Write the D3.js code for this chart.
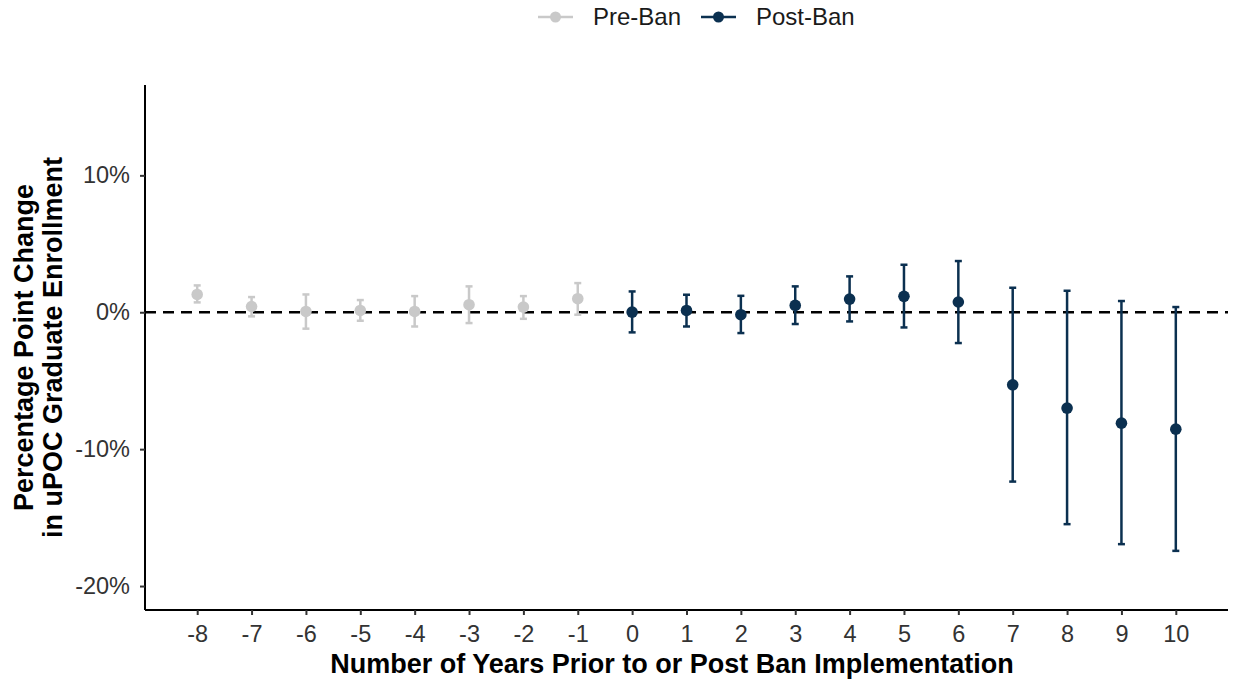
<!doctype html>
<html lang="en">
<head>
<meta charset="utf-8">
<title>Event study: uPOC graduate enrollment</title>
<script src="https://cdn.jsdelivr.net/npm/d3@7"></script>
<style>
  body { margin: 0; background: #fff; }
  text { font-family: "Liberation Sans", Arial, sans-serif; }
  .tick text { fill: #333; font-size: 23.5px; }
  .axis-title { font-weight: bold; font-size: 27px; fill: #000; }
</style>
</head>
<body>
<div id="viz"></div>
<script>
// DATA
var years = [-8, -7, -6, -5, -4, -3, -2, -1, 0, 1, 2, 3, 4, 5, 6, 7, 8, 9, 10];
var estimate = [1.3, 0.42, 0.06, 0.13, 0.06, 0.55, 0.38, 0.99, 0.01, 0.13, -0.18, 0.5, 0.96, 1.16, 0.75, -5.3, -7.0, -8.1, -8.54];
var ciLow = [0.72, -0.3, -1.2, -0.62, -1.04, -0.79, -0.48, -0.18, -1.47, -1.04, -1.52, -0.86, -0.67, -1.11, -2.25, -12.37, -15.48, -16.94, -17.43];
var ciHigh = [1.96, 1.11, 1.3, 0.89, 1.18, 1.89, 1.18, 2.13, 1.52, 1.28, 1.2, 1.89, 2.62, 3.47, 3.74, 1.79, 1.57, 0.82, 0.38];
var groups = ["Pre-Ban", "Post-Ban"];
var yTicks = [-20, -10, 0, 10];

var colors = { "Pre-Ban": "#c9c9c9", "Post-Ban": "#0b3050" };

var data = years.map(function(y, i) {
  return { year: y, est: estimate[i], lo: ciLow[i], hi: ciHigh[i], group: y < 0 ? "Pre-Ban" : "Post-Ban" };
});

// DRAWING AREA
var w = 1233, h = 680;
var margin = { top: 85, right: 5, bottom: 70, left: 145 };

var svg = d3.select("#viz").append("svg")
  .attr("width", w)
  .attr("height", h);

var x = d3.scaleLinear()
  .domain([-8.96, 10.96])
  .range([margin.left, w - margin.right]);

var y = d3.scaleLinear()
  .domain([-21.75, 16.6])
  .range([h - margin.bottom, margin.top]);

// zero line
svg.append("line")
  .attr("x1", x.range()[0]).attr("x2", x.range()[1])
  .attr("y1", y(0)).attr("y2", y(0))
  .attr("stroke", "#000")
  .attr("stroke-width", 2.5)
  .attr("stroke-dasharray", "11,7");

// AXES (plain hyphen for negatives, like the original)
var xAxis = svg.append("g")
  .attr("transform", "translate(0," + (h - margin.bottom) + ")")
  .call(d3.axisBottom(x).tickValues(years).tickFormat(function(d) { return String(d); }).tickSize(5).tickPadding(10));

var yAxis = svg.append("g")
  .attr("transform", "translate(" + margin.left + ",0)")
  .call(d3.axisLeft(y).tickValues(yTicks).tickFormat(function(d) { return d + "%"; }).tickSize(5).tickPadding(10));

[xAxis, yAxis].forEach(function(a) {
  a.select(".domain").attr("stroke", "#000").attr("stroke-width", 2);
  a.selectAll(".tick line").attr("stroke", "#333").attr("stroke-width", 2);
  a.selectAll(".tick text").attr("font-size", null).attr("font-family", null);
});
xAxis.select(".domain").attr("d", "M" + x.range()[0] + ",0H" + x.range()[1]);
yAxis.select(".domain").attr("d", "M0," + y.range()[0] + "V" + y.range()[1]);

// ERROR BARS
var bars = svg.append("g").selectAll("g.err")
  .data(data)
  .enter().append("g")
  .attr("class", "err")
  .attr("stroke", function(d) { return colors[d.group]; })
  .attr("stroke-width", 2.5);

bars.append("line")
  .attr("x1", function(d) { return x(d.year); })
  .attr("x2", function(d) { return x(d.year); })
  .attr("y1", function(d) { return y(d.lo); })
  .attr("y2", function(d) { return y(d.hi); });

bars.append("line")
  .attr("x1", function(d) { return x(d.year) - 3.5; })
  .attr("x2", function(d) { return x(d.year) + 3.5; })
  .attr("y1", function(d) { return y(d.hi); })
  .attr("y2", function(d) { return y(d.hi); });

bars.append("line")
  .attr("x1", function(d) { return x(d.year) - 3.5; })
  .attr("x2", function(d) { return x(d.year) + 3.5; })
  .attr("y1", function(d) { return y(d.lo); })
  .attr("y2", function(d) { return y(d.lo); });

// POINTS
svg.append("g").selectAll("circle")
  .data(data)
  .enter().append("circle")
  .attr("cx", function(d) { return x(d.year); })
  .attr("cy", function(d) { return y(d.est); })
  .attr("r", 5.8)
  .attr("fill", function(d) { return colors[d.group]; });

// AXIS TITLES
svg.append("text")
  .attr("class", "axis-title")
  .attr("x", 672)
  .attr("y", 673)
  .attr("text-anchor", "middle")
  .text("Number of Years Prior to or Post Ban Implementation");

var yt = svg.append("text")
  .attr("class", "axis-title")
  .attr("text-anchor", "middle")
  .attr("transform", "translate(33," + ((margin.top + h - margin.bottom) / 2) + ") rotate(-90)");
yt.append("tspan").attr("x", 0).attr("dy", 0).text("Percentage Point Change");
yt.append("tspan").attr("x", 0).attr("dy", 29).text("in uPOC Graduate Enrollment");

// LEGEND
var legendPos = { "Pre-Ban": 538, "Post-Ban": 701 };
var leg = svg.append("g").selectAll("g")
  .data(groups)
  .enter().append("g")
  .attr("transform", function(d) { return "translate(" + legendPos[d] + ",17)"; });

leg.append("line")
  .attr("x1", 0).attr("x2", 35)
  .attr("stroke", function(d) { return colors[d]; })
  .attr("stroke-width", 2.5);
leg.append("circle")
  .attr("cx", 17.5).attr("r", 5.5)
  .attr("fill", function(d) { return colors[d]; });
leg.append("text")
  .attr("x", 55)
  .attr("dy", "0.35em")
  .attr("font-size", 24)
  .attr("fill", "#1a1a1a")
  .text(function(d) { return d; });
</script>
</body>
</html>
